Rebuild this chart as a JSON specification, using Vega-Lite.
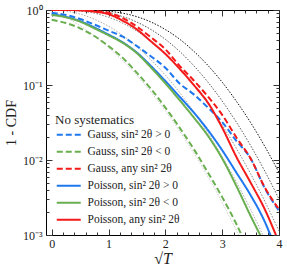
{
  "$schema": "https://vega.github.io/schema/vega-lite/v6.json",
  "width": 233,
  "height": 225,
  "autosize": {"type": "none"},
  "padding": {"left": 46, "top": 10, "right": 8, "bottom": 38},
  "config": {
    "view": {"stroke": "black", "strokeWidth": 1},
    "font": "Liberation Serif",
    "axis": {"labelFont": "Liberation Serif", "titleFont": "Liberation Serif", "labelFontSize": 12, "titleFontWeight": "normal", "labelColor": "#222", "titleColor": "#222", "domain": false, "grid": false, "tickColor": "#333"}
  },
  "datasets": {
    "ref": [
      {"k": "k1", "col": "#cccccc", "x": 0, "y": 1}, {"k": "k1", "col": "#cccccc", "x": 0.25, "y": 0.803}, {"k": "k1", "col": "#cccccc", "x": 0.5, "y": 0.617}, {"k": "k1", "col": "#cccccc", "x": 0.75, "y": 0.453}, {"k": "k1", "col": "#cccccc", "x": 1, "y": 0.317}, {"k": "k1", "col": "#cccccc", "x": 1.25, "y": 0.211}, {"k": "k1", "col": "#cccccc", "x": 1.5, "y": 0.134}, {"k": "k1", "col": "#cccccc", "x": 1.75, "y": 0.08}, {"k": "k1", "col": "#cccccc", "x": 2, "y": 0.0455}, {"k": "k1", "col": "#cccccc", "x": 2.25, "y": 0.0244}, {"k": "k1", "col": "#cccccc", "x": 2.5, "y": 0.0124}, {"k": "k1", "col": "#cccccc", "x": 2.75, "y": 0.006}, {"k": "k1", "col": "#cccccc", "x": 3, "y": 0.0027}, {"k": "k1", "col": "#cccccc", "x": 3.25, "y": 0.00115}, {"k": "k1", "col": "#cccccc", "x": 3.4, "y": 0.00067},
      {"k": "k2", "col": "#aaaaaa", "x": 0, "y": 1}, {"k": "k2", "col": "#aaaaaa", "x": 0.25, "y": 0.969}, {"k": "k2", "col": "#aaaaaa", "x": 0.5, "y": 0.8825}, {"k": "k2", "col": "#aaaaaa", "x": 0.75, "y": 0.755}, {"k": "k2", "col": "#aaaaaa", "x": 1, "y": 0.6065}, {"k": "k2", "col": "#aaaaaa", "x": 1.25, "y": 0.458}, {"k": "k2", "col": "#aaaaaa", "x": 1.5, "y": 0.3247}, {"k": "k2", "col": "#aaaaaa", "x": 1.75, "y": 0.216}, {"k": "k2", "col": "#aaaaaa", "x": 2, "y": 0.1353}, {"k": "k2", "col": "#aaaaaa", "x": 2.25, "y": 0.0796}, {"k": "k2", "col": "#aaaaaa", "x": 2.5, "y": 0.0439}, {"k": "k2", "col": "#aaaaaa", "x": 2.75, "y": 0.0228}, {"k": "k2", "col": "#aaaaaa", "x": 3, "y": 0.0111}, {"k": "k2", "col": "#aaaaaa", "x": 3.25, "y": 0.0051}, {"k": "k2", "col": "#aaaaaa", "x": 3.5, "y": 0.00219}, {"k": "k2", "col": "#aaaaaa", "x": 3.75, "y": 0.00088}, {"k": "k2", "col": "#aaaaaa", "x": 3.85, "y": 0.0006},
      {"k": "k3", "col": "#888888", "x": 0, "y": 1}, {"k": "k3", "col": "#888888", "x": 0.25, "y": 0.996}, {"k": "k3", "col": "#888888", "x": 0.5, "y": 0.969}, {"k": "k3", "col": "#888888", "x": 0.75, "y": 0.905}, {"k": "k3", "col": "#888888", "x": 1, "y": 0.801}, {"k": "k3", "col": "#888888", "x": 1.25, "y": 0.668}, {"k": "k3", "col": "#888888", "x": 1.5, "y": 0.522}, {"k": "k3", "col": "#888888", "x": 1.75, "y": 0.382}, {"k": "k3", "col": "#888888", "x": 2, "y": 0.261}, {"k": "k3", "col": "#888888", "x": 2.25, "y": 0.167}, {"k": "k3", "col": "#888888", "x": 2.5, "y": 0.1}, {"k": "k3", "col": "#888888", "x": 2.75, "y": 0.056}, {"k": "k3", "col": "#888888", "x": 3, "y": 0.0293}, {"k": "k3", "col": "#888888", "x": 3.25, "y": 0.0143}, {"k": "k3", "col": "#888888", "x": 3.5, "y": 0.00658}, {"k": "k3", "col": "#888888", "x": 3.75, "y": 0.00282}, {"k": "k3", "col": "#888888", "x": 4, "y": 0.00113},
      {"k": "k4", "col": "#555555", "x": 0, "y": 1}, {"k": "k4", "col": "#555555", "x": 0.25, "y": 0.9995}, {"k": "k4", "col": "#555555", "x": 0.5, "y": 0.9928}, {"k": "k4", "col": "#555555", "x": 0.75, "y": 0.967}, {"k": "k4", "col": "#555555", "x": 1, "y": 0.9098}, {"k": "k4", "col": "#555555", "x": 1.25, "y": 0.8155}, {"k": "k4", "col": "#555555", "x": 1.5, "y": 0.69}, {"k": "k4", "col": "#555555", "x": 1.75, "y": 0.5475}, {"k": "k4", "col": "#555555", "x": 2, "y": 0.406}, {"k": "k4", "col": "#555555", "x": 2.25, "y": 0.281}, {"k": "k4", "col": "#555555", "x": 2.5, "y": 0.181}, {"k": "k4", "col": "#555555", "x": 2.75, "y": 0.109}, {"k": "k4", "col": "#555555", "x": 3, "y": 0.0611}, {"k": "k4", "col": "#555555", "x": 3.25, "y": 0.0319}, {"k": "k4", "col": "#555555", "x": 3.5, "y": 0.0156}, {"k": "k4", "col": "#555555", "x": 3.75, "y": 0.0071}, {"k": "k4", "col": "#555555", "x": 4, "y": 0.00302},
      {"k": "k5", "col": "#111111", "x": 0, "y": 1}, {"k": "k5", "col": "#111111", "x": 0.25, "y": 0.9999}, {"k": "k5", "col": "#111111", "x": 0.5, "y": 0.9985}, {"k": "k5", "col": "#111111", "x": 0.75, "y": 0.9897}, {"k": "k5", "col": "#111111", "x": 1, "y": 0.962}, {"k": "k5", "col": "#111111", "x": 1.25, "y": 0.906}, {"k": "k5", "col": "#111111", "x": 1.5, "y": 0.814}, {"k": "k5", "col": "#111111", "x": 1.75, "y": 0.69}, {"k": "k5", "col": "#111111", "x": 2, "y": 0.549}, {"k": "k5", "col": "#111111", "x": 2.25, "y": 0.409}, {"k": "k5", "col": "#111111", "x": 2.5, "y": 0.282}, {"k": "k5", "col": "#111111", "x": 2.75, "y": 0.182}, {"k": "k5", "col": "#111111", "x": 3, "y": 0.109}, {"k": "k5", "col": "#111111", "x": 3.25, "y": 0.0607}, {"k": "k5", "col": "#111111", "x": 3.5, "y": 0.0316}, {"k": "k5", "col": "#111111", "x": 3.75, "y": 0.0152}, {"k": "k5", "col": "#111111", "x": 4, "y": 0.0068}
    ],
    "curves": [
      {"s": "Gauss, sin² 2θ > 0", "x": 0, "y": 0.92}, {"s": "Gauss, sin² 2θ > 0", "x": 0.25, "y": 0.86}, {"s": "Gauss, sin² 2θ > 0", "x": 0.5, "y": 0.76}, {"s": "Gauss, sin² 2θ > 0", "x": 0.75, "y": 0.64}, {"s": "Gauss, sin² 2θ > 0", "x": 1, "y": 0.53}, {"s": "Gauss, sin² 2θ > 0", "x": 1.25, "y": 0.44}, {"s": "Gauss, sin² 2θ > 0", "x": 1.5, "y": 0.33}, {"s": "Gauss, sin² 2θ > 0", "x": 1.75, "y": 0.24}, {"s": "Gauss, sin² 2θ > 0", "x": 2, "y": 0.17}, {"s": "Gauss, sin² 2θ > 0", "x": 2.25, "y": 0.105}, {"s": "Gauss, sin² 2θ > 0", "x": 2.5, "y": 0.075}, {"s": "Gauss, sin² 2θ > 0", "x": 2.75, "y": 0.05}, {"s": "Gauss, sin² 2θ > 0", "x": 3, "y": 0.032}, {"s": "Gauss, sin² 2θ > 0", "x": 3.25, "y": 0.018}, {"s": "Gauss, sin² 2θ > 0", "x": 3.5, "y": 0.0105}, {"s": "Gauss, sin² 2θ > 0", "x": 3.75, "y": 0.0042}, {"s": "Gauss, sin² 2θ > 0", "x": 4, "y": 0.0021},
      {"s": "Gauss, sin² 2θ < 0", "x": 0, "y": 0.74}, {"s": "Gauss, sin² 2θ < 0", "x": 0.25, "y": 0.67}, {"s": "Gauss, sin² 2θ < 0", "x": 0.5, "y": 0.57}, {"s": "Gauss, sin² 2θ < 0", "x": 0.75, "y": 0.45}, {"s": "Gauss, sin² 2θ < 0", "x": 1, "y": 0.33}, {"s": "Gauss, sin² 2θ < 0", "x": 1.25, "y": 0.23}, {"s": "Gauss, sin² 2θ < 0", "x": 1.5, "y": 0.145}, {"s": "Gauss, sin² 2θ < 0", "x": 1.75, "y": 0.088}, {"s": "Gauss, sin² 2θ < 0", "x": 2, "y": 0.05}, {"s": "Gauss, sin² 2θ < 0", "x": 2.25, "y": 0.027}, {"s": "Gauss, sin² 2θ < 0", "x": 2.5, "y": 0.014}, {"s": "Gauss, sin² 2θ < 0", "x": 2.75, "y": 0.0068}, {"s": "Gauss, sin² 2θ < 0", "x": 3, "y": 0.0032}, {"s": "Gauss, sin² 2θ < 0", "x": 3.25, "y": 0.0014}, {"s": "Gauss, sin² 2θ < 0", "x": 3.4, "y": 0.0008},
      {"s": "Gauss, any sin² 2θ", "x": 0, "y": 1}, {"s": "Gauss, any sin² 2θ", "x": 0.5, "y": 0.995}, {"s": "Gauss, any sin² 2θ", "x": 0.75, "y": 0.97}, {"s": "Gauss, any sin² 2θ", "x": 1, "y": 0.92}, {"s": "Gauss, any sin² 2θ", "x": 1.25, "y": 0.78}, {"s": "Gauss, any sin² 2θ", "x": 1.5, "y": 0.6}, {"s": "Gauss, any sin² 2θ", "x": 1.75, "y": 0.43}, {"s": "Gauss, any sin² 2θ", "x": 2, "y": 0.3}, {"s": "Gauss, any sin² 2θ", "x": 2.25, "y": 0.18}, {"s": "Gauss, any sin² 2θ", "x": 2.5, "y": 0.115}, {"s": "Gauss, any sin² 2θ", "x": 2.75, "y": 0.07}, {"s": "Gauss, any sin² 2θ", "x": 3, "y": 0.04}, {"s": "Gauss, any sin² 2θ", "x": 3.25, "y": 0.02}, {"s": "Gauss, any sin² 2θ", "x": 3.5, "y": 0.0105}, {"s": "Gauss, any sin² 2θ", "x": 3.75, "y": 0.0043}, {"s": "Gauss, any sin² 2θ", "x": 4, "y": 0.0022},
      {"s": "Poisson, sin² 2θ > 0", "x": 0, "y": 0.88}, {"s": "Poisson, sin² 2θ > 0", "x": 0.25, "y": 0.81}, {"s": "Poisson, sin² 2θ > 0", "x": 0.5, "y": 0.71}, {"s": "Poisson, sin² 2θ > 0", "x": 0.75, "y": 0.585}, {"s": "Poisson, sin² 2θ > 0", "x": 1, "y": 0.47}, {"s": "Poisson, sin² 2θ > 0", "x": 1.25, "y": 0.37}, {"s": "Poisson, sin² 2θ > 0", "x": 1.5, "y": 0.27}, {"s": "Poisson, sin² 2θ > 0", "x": 1.75, "y": 0.178}, {"s": "Poisson, sin² 2θ > 0", "x": 2, "y": 0.113}, {"s": "Poisson, sin² 2θ > 0", "x": 2.25, "y": 0.07}, {"s": "Poisson, sin² 2θ > 0", "x": 2.5, "y": 0.043}, {"s": "Poisson, sin² 2θ > 0", "x": 2.75, "y": 0.025}, {"s": "Poisson, sin² 2θ > 0", "x": 3, "y": 0.0135}, {"s": "Poisson, sin² 2θ > 0", "x": 3.25, "y": 0.0068}, {"s": "Poisson, sin² 2θ > 0", "x": 3.5, "y": 0.0034}, {"s": "Poisson, sin² 2θ > 0", "x": 3.75, "y": 0.0015}, {"s": "Poisson, sin² 2θ > 0", "x": 3.9, "y": 0.0008},
      {"s": "Poisson, sin² 2θ < 0", "x": 0, "y": 0.86}, {"s": "Poisson, sin² 2θ < 0", "x": 0.25, "y": 0.8}, {"s": "Poisson, sin² 2θ < 0", "x": 0.5, "y": 0.7}, {"s": "Poisson, sin² 2θ < 0", "x": 0.75, "y": 0.57}, {"s": "Poisson, sin² 2θ < 0", "x": 1, "y": 0.46}, {"s": "Poisson, sin² 2θ < 0", "x": 1.25, "y": 0.365}, {"s": "Poisson, sin² 2θ < 0", "x": 1.5, "y": 0.265}, {"s": "Poisson, sin² 2θ < 0", "x": 1.75, "y": 0.17}, {"s": "Poisson, sin² 2θ < 0", "x": 2, "y": 0.105}, {"s": "Poisson, sin² 2θ < 0", "x": 2.25, "y": 0.063}, {"s": "Poisson, sin² 2θ < 0", "x": 2.5, "y": 0.037}, {"s": "Poisson, sin² 2θ < 0", "x": 2.75, "y": 0.021}, {"s": "Poisson, sin² 2θ < 0", "x": 3, "y": 0.0105}, {"s": "Poisson, sin² 2θ < 0", "x": 3.25, "y": 0.0045}, {"s": "Poisson, sin² 2θ < 0", "x": 3.5, "y": 0.0018}, {"s": "Poisson, sin² 2θ < 0", "x": 3.7, "y": 0.0009},
      {"s": "Poisson, any sin² 2θ", "x": 0, "y": 1}, {"s": "Poisson, any sin² 2θ", "x": 0.25, "y": 1}, {"s": "Poisson, any sin² 2θ", "x": 0.5, "y": 0.99}, {"s": "Poisson, any sin² 2θ", "x": 0.75, "y": 0.95}, {"s": "Poisson, any sin² 2θ", "x": 1, "y": 0.88}, {"s": "Poisson, any sin² 2θ", "x": 1.25, "y": 0.72}, {"s": "Poisson, any sin² 2θ", "x": 1.5, "y": 0.55}, {"s": "Poisson, any sin² 2θ", "x": 1.75, "y": 0.38}, {"s": "Poisson, any sin² 2θ", "x": 2, "y": 0.26}, {"s": "Poisson, any sin² 2θ", "x": 2.25, "y": 0.165}, {"s": "Poisson, any sin² 2θ", "x": 2.5, "y": 0.1}, {"s": "Poisson, any sin² 2θ", "x": 2.75, "y": 0.058}, {"s": "Poisson, any sin² 2θ", "x": 3, "y": 0.027}, {"s": "Poisson, any sin² 2θ", "x": 3.25, "y": 0.011}, {"s": "Poisson, any sin² 2θ", "x": 3.5, "y": 0.005}, {"s": "Poisson, any sin² 2θ", "x": 3.75, "y": 0.0022}, {"s": "Poisson, any sin² 2θ", "x": 3.97, "y": 0.0009}
    ]
  },
  "layer": [
    {
      "data": {"name": "ref"},
      "mark": {"type": "line", "strokeWidth": 1, "strokeDash": [1.5, 1.5], "clip": true, "interpolate": "monotone"},
      "encoding": {
        "x": {"field": "x", "type": "quantitative", "scale": {"domain": [-0.1, 4], "nice": false, "zero": false},
          "axis": {"orient": "bottom", "title": "√T", "titleFontSize": 16, "titleFontStyle": "italic", "titlePadding": 1,
            "values": [0, 0.2, 0.4, 0.6, 0.8, 1, 1.2, 1.4, 1.6, 1.8, 2, 2.2, 2.4, 2.6, 2.8, 3, 3.2, 3.4, 3.6, 3.8, 4],
            "labelExpr": "datum.value % 1 == 0 ? format(datum.value, 'd') : ''", "labelPadding": 9, "labelFlush": false,
            "tickSize": {"condition": {"test": "datum.value % 1 == 0", "value": -6}, "value": -3}}},
        "y": {"field": "y", "type": "quantitative", "scale": {"type": "log", "domain": [0.001, 1], "nice": false},
          "axis": {"orient": "left", "title": "1 - CDF", "titleFontSize": 14, "titlePadding": 4,
            "values": [0.001, 0.002, 0.003, 0.004, 0.005, 0.006, 0.007, 0.008, 0.009, 0.01, 0.02, 0.03, 0.04, 0.05, 0.06, 0.07, 0.08, 0.09, 0.1, 0.2, 0.3, 0.4, 0.5, 0.6, 0.7, 0.8, 0.9, 1],
            "labelExpr": "datum.value == 1 ? '10⁰' : datum.value == 0.1 ? '10⁻¹' : datum.value == 0.01 ? '10⁻²' : datum.value == 0.001 ? '10⁻³' : ''",
            "labelPadding": 10, "labelFlush": false,
            "tickSize": {"condition": {"test": "datum.value == 1 || datum.value == 0.1 || datum.value == 0.01 || datum.value == 0.001", "value": -6}, "value": -3}}},
        "stroke": {"field": "col", "type": "nominal", "scale": null, "legend": null},
        "detail": {"field": "k"}
      }
    },
    {
      "data": {"name": "curves"},
      "mark": {"type": "line", "strokeWidth": 2, "clip": true, "interpolate": "monotone"},
      "encoding": {
        "x": {"field": "x", "type": "quantitative", "axis": null},
        "y": {"field": "y", "type": "quantitative", "axis": null},
        "color": {"field": "s", "type": "nominal",
          "scale": {"domain": ["Gauss, sin² 2θ > 0", "Gauss, sin² 2θ < 0", "Gauss, any sin² 2θ", "Poisson, sin² 2θ > 0", "Poisson, sin² 2θ < 0", "Poisson, any sin² 2θ"],
            "range": ["#1f78f0", "#6aaf4f", "#f51a1a", "#1f78f0", "#6aaf4f", "#f51a1a"]},
          "legend": {"orient": "none", "legendX": 9, "legendY": 104, "title": "No systematics", "titleFont": "Liberation Serif", "titleFontSize": 13, "titleFontWeight": "normal", "titleColor": "#222", "titlePadding": 2,
            "labelFont": "Liberation Serif", "labelFontSize": 11.5, "labelColor": "#222", "labelOffset": 21, "symbolType": "M-1,0H5", "symbolSize": 64, "symbolStrokeWidth": 2, "rowPadding": 4, "labelLimit": 300}},
        "strokeDash": {"field": "s", "type": "nominal",
          "scale": {"domain": ["Gauss, sin² 2θ > 0", "Gauss, sin² 2θ < 0", "Gauss, any sin² 2θ", "Poisson, sin² 2θ > 0", "Poisson, sin² 2θ < 0", "Poisson, any sin² 2θ"],
            "range": [[6, 3], [6, 3], [6, 3], [1, 0], [1, 0], [1, 0]]}}
      }
    },
    {
      "data": {"name": "ref"},
      "mark": {"type": "line", "opacity": 0},
      "encoding": {
        "x": {"field": "x", "type": "quantitative",
          "axis": {"orient": "top", "title": null, "labels": false,
            "values": [0, 0.2, 0.4, 0.6, 0.8, 1, 1.2, 1.4, 1.6, 1.8, 2, 2.2, 2.4, 2.6, 2.8, 3, 3.2, 3.4, 3.6, 3.8, 4],
            "tickSize": {"condition": {"test": "datum.value % 1 == 0", "value": -6}, "value": -3}}},
        "y": {"field": "y", "type": "quantitative",
          "axis": {"orient": "right", "title": null, "labels": false,
            "values": [0.001, 0.002, 0.003, 0.004, 0.005, 0.006, 0.007, 0.008, 0.009, 0.01, 0.02, 0.03, 0.04, 0.05, 0.06, 0.07, 0.08, 0.09, 0.1, 0.2, 0.3, 0.4, 0.5, 0.6, 0.7, 0.8, 0.9, 1],
            "tickSize": {"condition": {"test": "datum.value == 1 || datum.value == 0.1 || datum.value == 0.01 || datum.value == 0.001", "value": -6}, "value": -3}}},
        "detail": {"field": "k"}
      }
    }
  ],
  "resolve": {"axis": {"x": "independent", "y": "independent"}}
}
